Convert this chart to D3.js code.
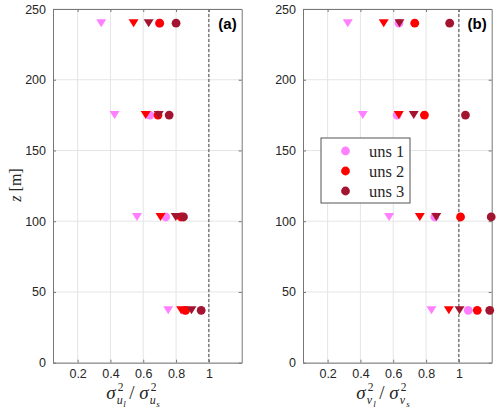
<!DOCTYPE html>
<html><head><meta charset="utf-8">
<script src="https://cdn.jsdelivr.net/npm/d3@7"></script>
<style>body{margin:0;background:#fff}svg{display:block}</style>
</head><body><svg id="c" width="500" height="411"></svg>
<script>
const heights = [240, 175, 103, 37];
const seriesNames = ["uns 1", "uns 2", "uns 3"];
const seriesColors = ["#FF80FF", "#FF0000", "#A2142F"];
// panel (a): u-component ratios, circles and triangles per series, at heights above
const aCircle = [
  [0.70, 0.64, 0.737, 0.85],
  [0.70, 0.69, 0.83, 0.858],
  [0.80, 0.758, 0.845, 0.953]
];
const aTri = [
  [0.344, 0.425, 0.562, 0.752],
  [0.541, 0.615, 0.705, 0.831],
  [0.633, 0.694, 0.798, 0.894]
];
// panel (b): v-component ratios
const bCircle = [
  [0.635, 0.624, 0.853, 1.057],
  [0.731, 0.79, 1.01, 1.112],
  [0.944, 1.04, 1.197, 1.188]
];
const bTri = [
  [0.323, 0.414, 0.575, 0.833],
  [0.542, 0.634, 0.762, 0.939],
  [0.638, 0.725, 0.862, 1.004]
];
const xTicks = [0.2, 0.4, 0.6, 0.8, 1];
const xTickLabels = ["0.2", "0.4", "0.6", "0.8", "1"];
const yTicks = [0, 50, 100, 150, 200, 250];
const panelLabels = ["(a)", "(b)"];
const compLetters = ["u", "v"];

const svg = d3.select("#c");
const yTop = 9, yBot = 362.7;
const y = d3.scaleLinear().domain([0, 250]).range([yBot, yTop]);
const panels = [
  {x0: 53, x1: 241.7, circ: aCircle, tri: aTri},
  {x0: 303, x1: 491.7, circ: bCircle, tri: bTri}
];
const sans = "Liberation Sans, Arial, sans-serif";
const serif = "Liberation Serif, Times New Roman, serif";

panels.forEach((p, pi) => {
  const x = d3.scaleLinear().domain([0.05, 1.2]).range([p.x0, p.x1]);
  const g = svg.append("g");
  g.selectAll(".gx").data(xTicks).join("line")
    .attr("x1", d => x(d)).attr("x2", d => x(d)).attr("y1", yTop).attr("y2", yBot)
    .attr("stroke", "#e5e5e5").attr("stroke-width", 1);
  g.selectAll(".gy").data(yTicks).join("line")
    .attr("x1", p.x0).attr("x2", p.x1).attr("y1", d => y(d)).attr("y2", d => y(d))
    .attr("stroke", "#e5e5e5").attr("stroke-width", 1);
  g.append("line").attr("x1", x(1)).attr("x2", x(1)).attr("y1", yTop).attr("y2", yBot)
    .attr("stroke", "#444").attr("stroke-width", 1).attr("stroke-dasharray", "3,2");
  const xa = d3.axisBottom(x).tickValues(xTicks).tickFormat((d, i) => xTickLabels[i]).tickSizeInner(-3).tickSizeOuter(0).tickPadding(6);
  const xaTop = d3.axisTop(x).tickValues(xTicks).tickFormat("").tickSizeInner(-3).tickSizeOuter(0);
  const ya = d3.axisLeft(y).tickValues(yTicks).tickSizeInner(-3).tickSizeOuter(0).tickPadding(7);
  const yaR = d3.axisRight(y).tickValues(yTicks).tickFormat("").tickSizeInner(-3).tickSizeOuter(0);
  const styleAx = sel => {
    sel.selectAll("path").attr("stroke", "#777");
    sel.selectAll("line").attr("stroke", "#777");
    sel.selectAll("text").attr("fill", "#262626").style("font-family", sans).style("font-size", "12.5px");
  };
  g.append("g").attr("transform", `translate(0,${yBot})`).call(xa).call(styleAx);
  g.append("g").attr("transform", `translate(0,${yTop})`).call(xaTop).call(styleAx);
  g.append("g").attr("transform", `translate(${p.x0},0)`).call(ya).call(styleAx);
  g.append("g").attr("transform", `translate(${p.x1},0)`).call(yaR).call(styleAx);

  const triPath = "M-5,-4L5,-4L0,4Z";
  seriesNames.forEach((s, si) => {
    g.selectAll(null).data(heights.map((h, i) => [p.circ[si][i], h])).join("circle")
      .attr("cx", d => x(d[0])).attr("cy", d => y(d[1])).attr("r", 4.4)
      .attr("fill", seriesColors[si]);
    g.selectAll(null).data(heights.map((h, i) => [p.tri[si][i], h])).join("path")
      .attr("d", triPath)
      .attr("transform", d => `translate(${x(d[0])},${y(d[1])})`)
      .attr("fill", seriesColors[si]);
  });

  g.append("text").attr("x", p.x1 - 5).attr("y", 29).attr("text-anchor", "end")
    .style("font-family", sans).style("font-weight", "bold").style("font-size", "15px")
    .attr("fill", "#000").text(panelLabels[pi]);

  // x label as a single text with positioned tspans
  const ox = (p.x0 + p.x1) / 2 + 1 - 42;
  const c = compLetters[pi];
  const t = svg.append("text").style("font-family", serif).attr("fill", "#262626");
  const addPart = (bx, label) => {
    t.append("tspan").attr("x", ox + bx).attr("y", 399).style("font-size", "19px").style("font-style", "italic").text("σ");
    t.append("tspan").attr("x", ox + bx + 11.5).attr("y", 391).style("font-size", "11.5px").style("font-style", "normal").text("2");
    t.append("tspan").attr("x", ox + bx + 10.5).attr("y", 404).style("font-size", "12px").style("font-style", "italic").text(c);
    t.append("tspan").attr("x", ox + bx + 17).attr("y", 407).style("font-size", "9px").style("font-style", "italic").text(label);
  };
  addPart(0, "l");
  t.append("tspan").attr("x", ox + 23).attr("y", 399).style("font-size", "19px").style("font-style", "normal").text("/");
  addPart(33, "s");
});

svg.append("text").attr("transform", "translate(21,185) rotate(-90)").attr("text-anchor", "middle")
  .style("font-family", serif).style("font-size", "16px").attr("fill", "#262626")
  .html('<tspan font-style="italic">z</tspan> [m]');

const lg = svg.append("g").attr("transform", "translate(321,138)");
lg.append("rect").attr("x", 0).attr("y", 0).attr("width", 89).attr("height", 65)
  .attr("fill", "#fff").attr("stroke", "#555").attr("stroke-width", 1);
seriesNames.forEach((s, si) => {
  lg.append("circle").attr("cx", 24.5).attr("cy", 13 + si * 20).attr("r", 4.4).attr("fill", seriesColors[si]);
  lg.append("text").attr("x", 48).attr("y", 18.5 + si * 20)
    .style("font-family", serif).style("font-size", "16.5px").attr("fill", "#262626").text(s);
});
</script></body></html>
